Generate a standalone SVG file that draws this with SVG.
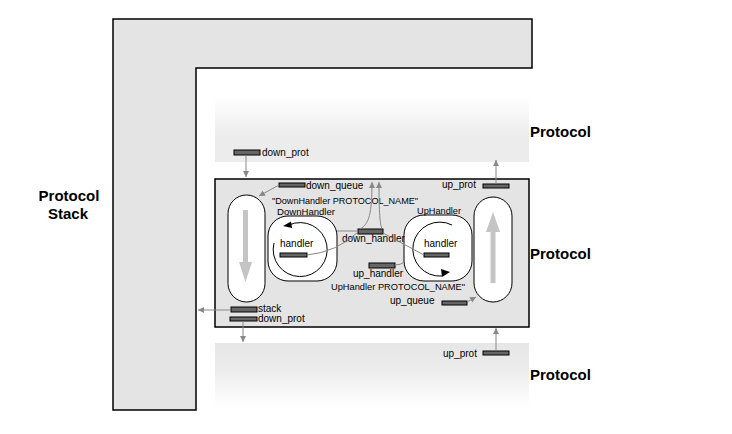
<svg xmlns="http://www.w3.org/2000/svg" width="732" height="434" viewBox="0 0 732 434">
<style>
.lbl{font-family:"Liberation Sans",Arial,sans-serif;font-size:10px;fill:#000}
.sm{font-family:"Liberation Sans",Arial,sans-serif;font-size:9px;fill:#000}
.big{font-family:"Liberation Sans",Arial,sans-serif;font-size:15px;font-weight:bold;fill:#000}
.port{fill:#666;stroke:#000;stroke-width:1}
.conn{fill:none;stroke:#888;stroke-width:1}
.pill{fill:#fff;stroke:#000;stroke-width:1}
.harrow{fill:#c4c4c4}
.circ{fill:none;stroke:#000;stroke-width:1}
</style>
<defs>
<linearGradient id="gTop" x1="0" y1="0" x2="0" y2="1">
<stop offset="0" stop-color="#ffffff"/>
<stop offset="0.6" stop-color="#ececec"/>
<stop offset="1" stop-color="#ececec"/>
</linearGradient>
<linearGradient id="gBot" x1="0" y1="0" x2="0" y2="1">
<stop offset="0" stop-color="#e6e6e6"/>
<stop offset="0.4" stop-color="#ececec"/>
<stop offset="1" stop-color="#ffffff"/>
</linearGradient>
<marker id="ah" markerUnits="userSpaceOnUse" markerWidth="8" markerHeight="8" refX="6" refY="3" orient="auto">
<path d="M0,0 L6,3 L0,6 z" fill="#888"/>
</marker>
</defs>
<rect width="732" height="434" fill="#fff"/>

<g id="protocol-stack">
<polygon points="113,19 532,19 532,68 196,68 196,410 113,410" fill="#e4e4e4" stroke="#000" stroke-width="1.5"/>
<text class="big" x="69" y="201" text-anchor="middle">Protocol</text>
<text class="big" x="68" y="219" text-anchor="middle">Stack</text>
</g>

<g id="protocol-top">
<rect x="215" y="98" width="314" height="64" fill="url(#gTop)"/>
<text class="big" x="530" y="137">Protocol</text>
</g>

<g id="protocol-bottom">
<rect x="215" y="343" width="314" height="64" fill="url(#gBot)"/>
<text class="big" x="530" y="380">Protocol</text>
</g>

<g id="protocol-middle">
<rect x="215" y="179" width="314" height="148" fill="#e4e4e4" stroke="#000" stroke-width="1.5"/>
<text class="big" x="530" y="259">Protocol</text>
</g>

<g id="down-queue-pill">
<rect class="pill" x="228" y="195" width="37" height="107" rx="18.5"/>
<polygon class="harrow" points="243,210 248,210 248,262 252,262 245.5,282 239,262 243,262"/>
</g>

<g id="up-queue-pill">
<rect class="pill" x="474" y="197" width="38" height="105" rx="19"/>
<polygon class="harrow" points="493,212 500,232 495.5,232 495.5,283 490.5,283 490.5,232 486,232"/>
</g>

<g id="down-handler">
<rect class="pill" x="268" y="216" width="69" height="65" rx="20"/>
<path class="circ" d="M274,243 A27,27 0 1 0 289,225"/>
<polygon points="283,226 291,221.5 292,228" fill="#000"/>
<text class="sm" x="277" y="214.5" textLength="58" lengthAdjust="spacingAndGlyphs">DownHandler</text>
<text class="lbl" x="280" y="247">handler</text>
<rect class="port" x="280" y="253" width="27" height="4"/>
</g>

<g id="up-handler">
<rect class="pill" x="404" y="215" width="68" height="66" rx="20"/>
<path class="circ" d="M452,225 A27,27 0 1 0 442,276"/>
<polygon points="450,272 441,269 442,277" fill="#000"/>
<text class="sm" x="417" y="213.5" textLength="44" lengthAdjust="spacingAndGlyphs">UpHandler</text>
<text class="lbl" x="424" y="247">handler</text>
<rect class="port" x="424" y="253" width="25" height="4"/>
</g>

<g id="labels">
<text class="sm" x="272" y="204" textLength="146" lengthAdjust="spacingAndGlyphs">"DownHandler PROTOCOL_NAME"</text>
<text class="sm" x="331" y="290" textLength="134" lengthAdjust="spacingAndGlyphs">UpHandler PROTOCOL_NAME"</text>
</g>

<g id="port-down-prot-top">
<rect class="port" x="234" y="150" width="26" height="5"/>
<text class="lbl" x="262" y="156">down_prot</text>
</g>
<g id="port-down-queue">
<rect class="port" x="279" y="183" width="26" height="4"/>
<text class="lbl" x="306" y="189">down_queue</text>
</g>
<g id="port-down-handler">
<rect class="port" x="358" y="229" width="25" height="5"/>
<text class="lbl" x="342" y="242">down_handler</text>
</g>
<g id="port-up-handler">
<rect class="port" x="369" y="263" width="26" height="5"/>
<text class="lbl" x="353" y="277">up_handler</text>
</g>
<g id="port-up-queue">
<rect class="port" x="442" y="301" width="25" height="4"/>
<text class="lbl" x="390" y="304">up_queue</text>
</g>
<g id="port-up-prot-top">
<rect class="port" x="483" y="184" width="26" height="4"/>
<text class="lbl" x="442" y="188">up_prot</text>
</g>
<g id="port-stack">
<rect class="port" x="231" y="307" width="26" height="5"/>
<text class="lbl" x="258" y="312">stack</text>
</g>
<g id="port-down-prot-bottom">
<rect class="port" x="230" y="317" width="27" height="4"/>
<text class="lbl" x="258" y="322">down_prot</text>
</g>
<g id="port-up-prot-bottom">
<rect class="port" x="483" y="351" width="26" height="4"/>
<text class="lbl" x="443" y="357">up_prot</text>
</g>

<g id="connectors">
<path class="conn" d="M246,155 L246,177" marker-end="url(#ah)"/>
<path class="conn" d="M279,185 L259,196" marker-end="url(#ah)"/>
<path class="conn" d="M307,255 Q337,252 358,232"/>
<path class="conn" d="M337,231 L358,231"/>
<path class="conn" d="M360,229 C369,224 372,214 372,182" marker-end="url(#ah)"/>
<path class="conn" d="M382,229 C380,224 379,214 379,182" marker-end="url(#ah)"/>
<path class="conn" d="M383,233 L424,255"/>
<path class="conn" d="M395,265 Q401,265 404,262"/>
<path class="conn" d="M467,302 L476,297" marker-end="url(#ah)"/>
<path class="conn" d="M496,184 L496,160" marker-end="url(#ah)"/>
<path class="conn" d="M231,310 L198,310" marker-end="url(#ah)"/>
<path class="conn" d="M243,321 L243,342" marker-end="url(#ah)"/>
<path class="conn" d="M496,351 L496,328" marker-end="url(#ah)"/>
</g>
</svg>
